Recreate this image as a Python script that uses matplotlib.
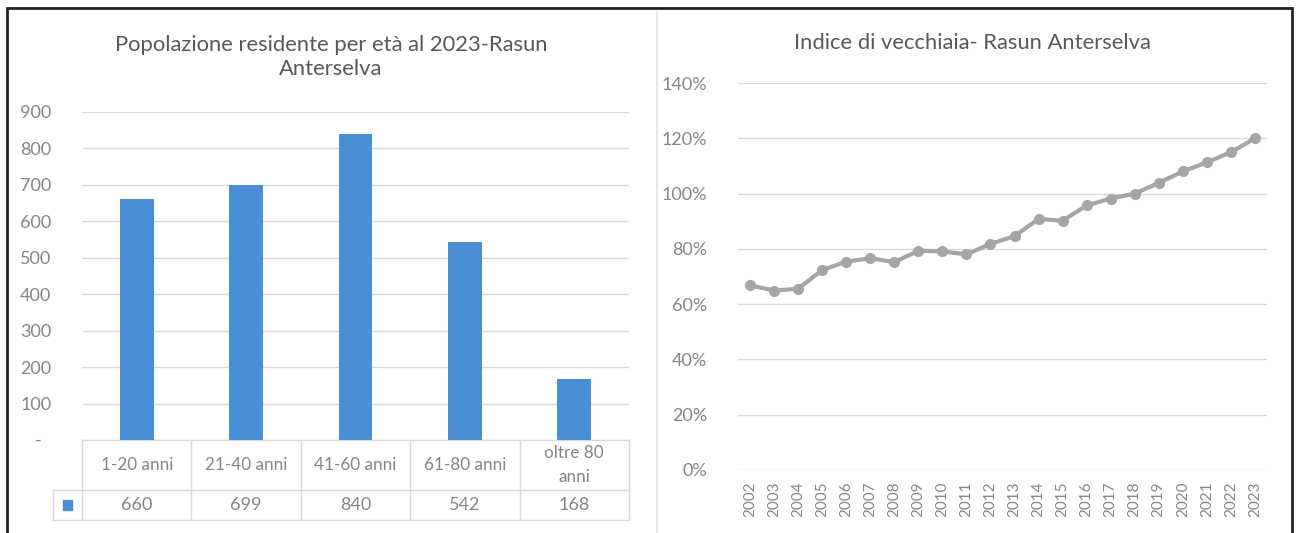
import matplotlib.pyplot as plt
from matplotlib.lines import Line2D
from matplotlib.patches import Rectangle

plt.rcParams['font.family'] = ['Lato', 'DejaVu Sans']

# dati
fasce = ['1-20 anni', '21-40 anni', '41-60 anni', '61-80 anni', 'oltre 80\nanni']
residenti = [660, 699, 840, 542, 168]

anni = [str(a) for a in range(2002, 2024)]
indice = [66.8, 64.9, 65.6, 72.3, 75.4, 76.6, 75.2, 79.3, 79.1, 78.0, 81.8,
          84.6, 90.8, 90.2, 95.7, 98.2, 100.0, 103.9, 108.0, 111.3, 115.0, 120.0]

BLU = '#4a8fd6'
GRIGIO = '#a5a5a5'
TESTO = '#858585'
GRID = '#d9d9d9'

W, H = 1296, 533
fig = plt.figure(figsize=(W / 100, H / 100), dpi=100)


def box(x0, y0, x1, y1):
    # pixel (dall'alto) -> frazioni della figura
    return [x0 / W, 1 - y1 / H, (x1 - x0) / W, (y1 - y0) / H]


# cornice esterna e separatore
fig.add_artist(Rectangle((7 / W, -0.05), (1292 - 7) / W, 1.05 - 8 / H,
                         transform=fig.transFigure, fill=False,
                         edgecolor='#222222', linewidth=2))
fig.add_artist(Line2D([657 / W, 657 / W], [0, 1 - 12 / H],
                      transform=fig.transFigure, color='#e3e3e3', linewidth=1.2))

# ---- grafico a barre ----
ax1 = fig.add_axes(box(82, 112, 629, 440))
x = list(range(len(fasce)))
ax1.bar(x, residenti, width=0.31, color=BLU, zorder=3)
ax1.set_xlim(-0.5, len(fasce) - 0.5)
ax1.set_ylim(0, 900)
ax1.set_yticks(range(0, 901, 100))
ax1.set_yticklabels(['-  '] + [str(v) for v in range(100, 901, 100)])
ax1.set_xticks([])
ax1.grid(axis='y', color=GRID, linewidth=1, zorder=0)
for s in ax1.spines.values():
    s.set_visible(False)
ax1.tick_params(axis='y', length=0, pad=22, labelsize=13, labelcolor=TESTO)
fig.text(331 / W, 1 - 57 / H, 'Popolazione residente per età al 2023-Rasun\nAnterselva',
         ha='center', va='center', fontsize=15.8, color='#595959', linespacing=1.3)

# tabella dati sotto l'asse
tr = ax1.get_xaxis_transform()
y_top, y_mid, y_bot = 0, -50 / 328, -80 / 328
x_leg = -0.5 - 29 / (547 / 5)
kw = dict(transform=tr, color=GRID, linewidth=1, clip_on=False)
ax1.plot([-0.5, 4.5], [y_top, y_top], **kw)
ax1.plot([x_leg, 4.5], [y_mid, y_mid], **kw)
ax1.plot([x_leg, 4.5], [y_bot, y_bot], **kw)
ax1.plot([x_leg, x_leg], [y_mid, y_bot], **kw)
for b in range(len(fasce) + 1):
    ax1.plot([b - 0.5, b - 0.5], [y_top, y_bot], **kw)
for i, (f, v) in enumerate(zip(fasce, residenti)):
    ax1.text(i, (y_top + y_mid) / 2, f, transform=tr, ha='center', va='center',
             fontsize=12.3, color=TESTO, linespacing=1.55)
    ax1.text(i, (y_mid + y_bot) / 2, str(v), transform=tr, ha='center', va='center',
             fontsize=13, color=TESTO)
ax1.add_patch(Rectangle(((x_leg - 0.5) / 2 - 0.04, (y_mid + y_bot) / 2 - 0.016), 0.08, 0.032,
                        transform=tr, color=BLU, clip_on=False))

# ---- indice di vecchiaia ----
ax2 = fig.add_axes(box(738, 83, 1267, 470))
ax2.plot(anni, indice, color=GRIGIO, linewidth=3, marker='o', markersize=7, zorder=3)
ax2.set_xlim(-0.5, len(anni) - 0.5)
ax2.set_ylim(0, 140)
ax2.set_yticks(range(0, 141, 20))
ax2.set_yticklabels([f'{v}%' for v in range(0, 141, 20)])
ax2.grid(axis='y', color=GRID, linewidth=1, zorder=0)
for s in ax2.spines.values():
    s.set_visible(False)
ax2.tick_params(axis='y', length=0, pad=22, labelsize=13, labelcolor=TESTO)
ax2.tick_params(axis='x', length=0, pad=8, labelsize=11, labelcolor=TESTO, rotation=90)
fig.text(972 / W, 1 - 43 / H, 'Indice di vecchiaia- Rasun Anterselva',
         ha='center', va='center', fontsize=15.8, color='#595959')

fig.savefig('out.png', dpi=100)
